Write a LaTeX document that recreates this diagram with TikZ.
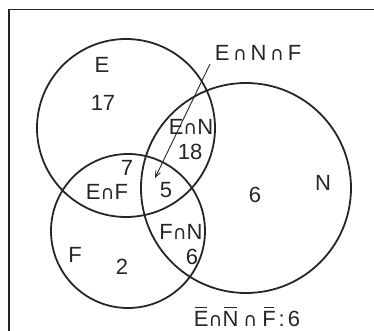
\documentclass[tikz,border=0pt]{standalone}
\usepackage{fontspec}
\setmainfont{Liberation Sans}
\newfontfamily\dvfont{DejaVu Sans}
\usetikzlibrary{arrows.meta}
\newcommand{\capx}{{\dvfont\fontsize{19}{19}\selectfont ∩}}
\newcommand{\obar}[1]{\setbox0\hbox{#1}\rlap{\hspace{1.5pt}\raisebox{\dimexpr\ht0+2.5pt\relax}{\rule{\dimexpr\wd0-3pt\relax}{1.3pt}}}\box0}
\definecolor{ink}{HTML}{262626}
\begin{document}
\begin{tikzpicture}[x=1pt,y=-1pt,
  ring/.style={draw=ink,line width=1.8pt},
  lbl/.style={text=ink,font=\fontsize{22}{24}\selectfont,inner sep=0pt},
  frame/.style={draw=ink,line width=1.3pt}]
\useasboundingbox (0,0) rectangle (374,331);
% frame (only top and left edges visible)
\coordinate (ftr) at (374,9.5);
\coordinate (ftl) at (9,9.5);
\coordinate (fbl) at (9,331);
\draw[frame] (ftr) -- (ftl) -- (fbl);
% circles
\node[ring,circle,minimum size=178pt,inner sep=0pt] (E) at (126,128) {};
\node[ring,circle,minimum size=154pt,inner sep=0pt] (F) at (128,231) {};
\node[ring,circle,minimum size=210pt,inner sep=0pt] (N) at (246,188) {};
% labels
\node[lbl] (lE) at (102,65) {E};
\node[lbl] (l17) at (103,103) {17};
\node[lbl] (lEN) at (191,127) {E\capx N};
\node[lbl] (l18) at (190,152) {18};
\node[lbl] (l7) at (127,168) {7};
\node[lbl] (lEF) at (107,192) {E\capx F};
\node[lbl] (l5) at (166,190) {5};
\node[lbl] (l6N) at (255,195) {6};
\node[lbl] (lN) at (323,183) {N};
\node[lbl] (lFN) at (181,232) {F\capx N};
\node[lbl] (l6FN) at (192,257) {6};
\node[lbl] (lF) at (75,255) {F};
\node[lbl] (l2) at (122,267) {2};
\node[lbl] (lENF) at (258,53) {E\,\capx\,N\,\capx\,F};
\node[lbl,anchor=base] (lnone) at (247,326) {\obar{E}\capx\obar{N}\hspace{5pt}\capx\hspace{5pt}\obar{F}\hspace{3pt}:\hspace{3pt}6};
% arrow
\coordinate (as) at (210,64);
\coordinate (ae) at (155,178);
\draw[draw=ink,line width=0.9pt,-{Straight Barb[length=6pt,width=5pt]}] (as) -- (ae);
\end{tikzpicture}
\end{document}
